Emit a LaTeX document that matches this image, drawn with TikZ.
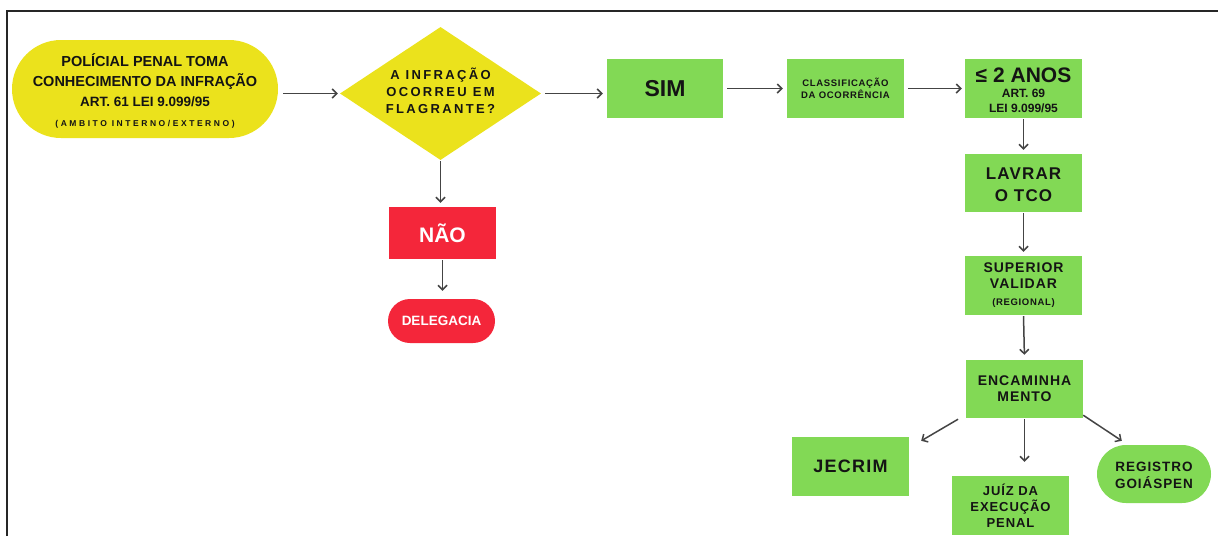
\documentclass[tikz,border=0pt]{standalone}
\usepackage{fontspec}
\setmainfont{Liberation Sans}
\newfontfamily\largo[LetterSpace=18]{Liberation Sans}
\newfontfamily\maislargo[LetterSpace=30]{Liberation Sans}
\newfontfamily\meiolargo[LetterSpace=7]{Liberation Sans}
\usetikzlibrary{shapes.geometric,arrows.meta}

\definecolor{amarelo}{HTML}{EBE21C}
\definecolor{verde}{HTML}{82D955}
\definecolor{vermelho}{HTML}{F4263A}
\definecolor{seta}{HTML}{444444}
\definecolor{texto}{HTML}{141414}

\begin{document}
\begin{tikzpicture}[x=1pt,y=-1pt,
    every node/.style={align=center,inner sep=0pt,text=texto},
    caixa/.style={rectangle,fill=verde,minimum width=117pt,minimum height=59pt},
    pilula/.style={rectangle,rounded corners=#1,minimum height=2*#1},
    ligacao/.style={-{Straight Barb[length=4.5pt,width=9pt]},draw=seta,
      line width=1.5pt,shorten <=4pt,shorten >=4pt}
  ]

  \useasboundingbox (0,0) rectangle (1218,536);

  % moldura
  \draw[line width=1.6pt,black!85] (7,536) -- (7,11) -- (1218,11);

  % inicio
  \node[pilula=49pt,fill=amarelo,minimum width=266pt,
        font=\bfseries\fontsize{14.5}{19.5}\selectfont] (infracao) at (145,89)
    {\rule{0pt}{17pt}POLÍCIAL PENAL TOMA\\
     CONHECIMENTO DA INFRAÇÃO\\[1pt]
     {\fontsize{13.5}{19}\selectfont ART. 61 LEI 9.099/95}\\[0pt]
     {\fontsize{8.5}{12}\selectfont\maislargo\bfseries (AMBITO INTERNO/EXTERNO)}};

  \node[diamond,aspect=1.5,fill=amarelo,minimum width=201pt,minimum height=133pt,
        font=\largo\bfseries\fontsize{13}{17}\selectfont]
    (decisao) at (440.5,93.5) {A INFRAÇÃO\\OCORREU EM\\FLAGRANTE?\rule[-6pt]{0pt}{0pt}};

  % ramo sim
  \node[caixa,minimum width=116pt,font=\bfseries\fontsize{23}{26}\selectfont]
    (sim) at (665,88.5) {SIM};
  \node[caixa,font=\meiolargo\bfseries\fontsize{9.5}{12}\selectfont]
    (classif) at (845.5,88.5) {CLASSIFICAÇÃO\\DA OCORRÊNCIA};
  \node[caixa,font=\bfseries\fontsize{12}{15}\selectfont] (anos) at (1023.5,88.5)
    {\rule{0pt}{19pt}{\fontsize{21}{17}\selectfont ≤ 2 ANOS}\\
     ART. 69\\
     LEI 9.099/95};
  \node[caixa,minimum height=58pt,font=\meiolargo\bfseries\fontsize{17}{22}\selectfont]
    (lavrar) at (1023.5,183) {\rule{0pt}{15pt}LAVRAR\\O TCO};
  \node[caixa,font=\meiolargo\bfseries\fontsize{14}{16}\selectfont]
    (superior) at (1023.5,285.5)
    {SUPERIOR\\VALIDAR\\[1pt]
     {\fontsize{9.5}{12}\selectfont (REGIONAL)}};
  \node[caixa,minimum height=58pt,font=\meiolargo\bfseries\fontsize{14}{16}\selectfont]
    (encam) at (1024.5,389) {ENCAMINHA\\MENTO};

  % destinos
  \node[caixa,font=\meiolargo\bfseries\fontsize{18}{20}\selectfont]
    (jecrim) at (850.5,466.5) {JECRIM};
  \node[caixa,font=\meiolargo\bfseries\fontsize{13}{16}\selectfont]
    (juiz) at (1010.5,505.5) {JUÍZ DA\\EXECUÇÃO\\PENAL};
  \node[pilula=29pt,fill=verde,minimum width=114pt,
        font=\meiolargo\bfseries\fontsize{13.5}{17}\selectfont]
    (registro) at (1154,474) {\rule{0pt}{13pt}REGISTRO\\GOIÁSPEN};

  % ramo nao
  \node[rectangle,fill=vermelho,minimum width=107pt,minimum height=52pt,text=white,
        font=\bfseries\fontsize{21}{24}\selectfont] (nao) at (442.5,233) {NÃO};
  \node[pilula=22pt,fill=vermelho,minimum width=107pt,text=white,
        font=\bfseries\fontsize{13.5}{16}\selectfont] (delegacia) at (441.5,321) {DELEGACIA};

  % ligacoes
  \draw[ligacao,shorten <=5pt,shorten >=2pt] (infracao.east |- decisao.west) -- (decisao.west);
  \draw[ligacao] (decisao.east) -- (decisao.east -| sim.west);
  \draw[ligacao] (sim.east) -- (classif.west);
  \draw[ligacao,shorten >=3pt] (classif.east) -- (anos.west);
  \draw[ligacao,shorten <=1pt] (anos.south) -- (lavrar.north);
  \draw[ligacao,shorten <=1pt] (lavrar.south) -- (superior.north);
  \draw[ligacao,shorten <=1pt,shorten >=5pt] (superior.south) -- (encam.north);
  \draw[ligacao,shorten <=1pt] (decisao.south) -- (decisao.south |- nao.north);
  \draw[ligacao,shorten <=1pt,shorten >=8pt] (nao.south) -- (nao.south |- delegacia.north);
  \draw[ligacao,shorten <=2pt,shorten >=0pt] ([xshift=-6pt]encam.south west)
    -- ([xshift=12pt,yshift=-4pt]jecrim.north east);
  \draw[ligacao,shorten <=1pt,shorten >=14pt] (encam.south) -- (encam.south |- juiz.north);
  \draw[ligacao,shorten <=0pt,shorten >=0pt] ([yshift=3pt]encam.south east)
    -- ([xshift=25pt,yshift=4pt]registro.north west);
\end{tikzpicture}
\end{document}
